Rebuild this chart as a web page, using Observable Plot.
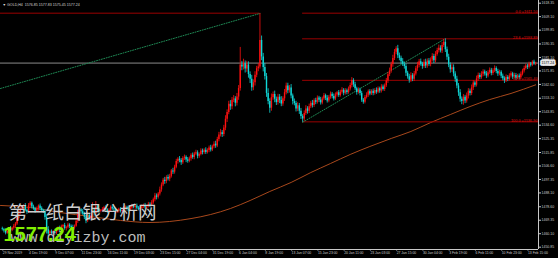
<!DOCTYPE html>
<html><head><meta charset="utf-8">
<script src="https://cdn.jsdelivr.net/npm/d3@7"></script>
<script src="https://cdn.jsdelivr.net/npm/@observablehq/plot@0.6"></script>
<style>html,body{margin:0;padding:0;background:#000;overflow:hidden}</style>
</head><body><div id="chart"></div>
<script>
// ---- data ----
const symbolHeader = "\u25BC GOLD,H4  1576.85 1577.83 1575.45 1577.24";
const firstOpen = 1463.4;
const closes = [
1463.0,1462.0,1460.5,1461.8,1463.5,1462.4,1463.9,1465.2,1466.8,1470.5,1474.8,1476.9,1477.6,1478.8,1476.2,1474.9,1479.3,1481.0,1478.4,1477.2,
1475.6,1476.8,1479.1,1477.5,1476.0,1475.3,1471.2,1462.8,1459.9,1461.4,1460.2,1461.5,1460.3,1462.7,1463.9,1462.1,1464.8,1465.7,1463.6,1464.2,
1466.1,1465.0,1464.4,1463.8,1465.3,1468.6,1474.9,1476.5,1475.2,1473.7,1471.4,1468.9,1472.8,1470.6,1471.9,1476.3,1474.0,1478.7,1476.4,1475.5,
1475.9,1476.8,1477.9,1476.6,1475.4,1476.2,1478.3,1477.1,1476.5,1474.8,1475.6,1476.9,1475.3,1476.0,1477.4,1478.2,1477.0,1476.1,1477.8,1478.9,
1478.1,1479.2,1477.6,1476.8,1477.5,1478.6,1479.4,1478.0,1478.7,1480.3,1479.6,1481.2,1483.4,1486.0,1485.1,1487.3,1490.2,1493.5,1496.8,1495.9,
1498.7,1497.6,1499.5,1503.2,1502.4,1505.8,1509.6,1511.2,1510.3,1508.9,1511.8,1512.6,1510.7,1509.8,1511.5,1513.9,1512.4,1514.8,1515.6,1513.2,
1514.5,1516.9,1515.8,1517.4,1515.9,1517.2,1518.9,1517.5,1519.8,1521.6,1520.4,1524.8,1527.9,1529.5,1528.2,1532.6,1538.7,1543.4,1548.9,1547.2,
1551.8,1552.6,1549.7,1553.9,1559.8,1576.0,1574.6,1576.8,1573.2,1575.9,1569.4,1566.1,1560.3,1563.7,1568.9,1573.4,1574.6,1592.8,1581.5,1574.2,
1568.0,1556.4,1550.8,1546.3,1553.5,1555.7,1552.4,1550.1,1553.8,1551.6,1549.2,1552.7,1556.9,1561.5,1558.3,1560.2,1554.6,1550.8,1549.5,1545.7,
1547.9,1544.2,1540.5,1538.9,1542.7,1545.8,1544.1,1547.3,1549.6,1548.2,1551.4,1550.3,1553.2,1551.8,1549.9,1552.5,1554.8,1553.1,1551.2,1553.7,
1555.9,1554.3,1552.6,1555.4,1556.8,1554.9,1557.3,1558.6,1556.5,1558.2,1557.0,1559.4,1561.8,1565.2,1562.4,1559.7,1557.1,1558.8,1556.3,1551.8,
1550.4,1553.6,1555.2,1557.6,1556.1,1557.9,1556.4,1558.5,1557.2,1559.6,1558.0,1560.8,1559.1,1561.7,1564.9,1569.3,1571.8,1576.2,1580.4,1584.6,
1587.1,1582.3,1580.5,1578.2,1576.4,1574.9,1570.3,1567.8,1565.4,1568.6,1566.2,1569.7,1573.4,1575.6,1578.1,1576.5,1574.9,1577.8,1575.2,1578.6,
1576.3,1579.4,1581.7,1578.8,1583.2,1585.9,1587.4,1585.6,1589.3,1591.5,1586.4,1581.2,1575.8,1572.6,1574.1,1569.8,1566.2,1561.5,1556.8,1552.4,
1550.9,1553.7,1551.2,1554.6,1557.9,1556.3,1560.2,1563.5,1562.1,1566.4,1568.8,1567.3,1569.5,1571.2,1569.8,1568.4,1570.6,1572.3,1570.1,1571.9,
1573.5,1571.4,1569.8,1570.9,1568.2,1566.5,1565.1,1567.4,1566.0,1568.3,1569.9,1567.6,1568.8,1566.9,1568.4,1567.2,1569.5,1571.8,1573.6,1575.2,
1574.3,1576.5,1575.8,1577.9,1576.85,1577.24];
const upWick = [
1.2,0.8,1.5,1.1,0.9,1.6,0.7,1.3,1.0,1.8,1.4,0.9,1.7,1.2,2.0,0.8,1.5,1.1,0.9,1.3,
1.0,1.6,0.8,1.4,1.1,0.9,1.2,1.5,2.1,1.0,1.3,0.8,1.6,1.1,0.9,1.4,1.2,0.7,1.5,1.0,
1.3,0.9,1.1,1.6,0.8,1.9,1.4,1.2,0.9,1.5,1.1,1.7,0.8,1.3,1.0,5.0,1.2,3.5,1.1,0.9,
0.8,1.2,1.0,1.4,0.7,1.1,0.9,1.3,0.8,1.0,1.2,0.7,1.1,0.9,1.3,1.0,0.8,1.2,0.9,1.4,
1.0,0.8,1.3,1.1,0.9,1.2,1.0,1.5,0.8,1.3,1.1,1.6,1.2,1.8,1.4,1.1,1.9,1.5,1.3,2.0,
1.2,1.7,1.4,1.0,1.8,1.3,1.6,1.1,1.9,1.4,1.2,1.5,1.0,1.7,1.3,1.1,1.6,1.2,1.8,1.4,
1.1,1.5,1.3,1.0,1.7,1.2,1.4,1.9,1.1,1.6,2.0,1.5,1.8,2.2,1.4,1.9,2.4,1.7,2.1,2.6,
1.8,2.3,1.6,2.5,2.0,12.0,2.4,3.1,1.9,2.6,2.2,1.8,2.7,2.0,2.4,1.6,2.2,18.5,3.0,2.4,
2.8,2.1,3.2,1.9,2.5,1.7,2.3,1.5,2.0,1.8,2.6,1.4,2.2,2.0,1.9,1.6,2.3,1.4,1.8,1.5,
2.1,1.6,1.9,1.3,1.7,2.2,1.5,1.8,1.4,2.0,1.3,1.7,1.5,1.2,1.9,1.4,1.6,1.1,1.8,1.3,
1.5,1.2,1.7,1.4,1.0,1.6,1.3,1.8,1.1,1.5,1.2,1.4,1.7,2.1,1.3,1.6,1.0,1.4,1.2,1.5,
1.1,1.3,1.6,1.2,1.4,1.0,1.5,1.2,1.7,1.3,1.1,1.6,1.4,1.2,1.8,1.5,2.0,1.7,2.2,1.9,
1.4,2.3,1.8,1.5,2.1,1.6,1.9,1.3,1.7,2.0,1.4,1.8,1.5,2.2,1.6,1.9,1.3,1.7,2.1,1.5,
1.8,1.4,2.0,1.6,1.9,1.5,2.2,1.7,2.0,1.9,2.4,1.8,2.1,1.6,2.3,1.9,1.5,2.0,1.7,2.2,
1.6,1.9,1.4,2.1,1.8,1.5,2.0,1.7,1.3,1.9,1.6,1.4,1.8,1.5,1.2,1.7,1.4,1.6,1.3,1.5,
1.8,1.2,1.6,1.4,1.1,1.5,1.3,1.7,1.2,1.6,1.4,1.0,1.5,1.3,1.1,1.4,1.6,1.2,1.5,1.3,
1.1,1.4,1.2,1.0,1.3,0.59];
const downWick = [
1.0,1.4,1.2,0.8,1.5,1.1,0.9,1.3,1.6,1.0,1.2,1.7,0.9,1.4,1.1,1.5,0.8,1.3,1.2,1.0,
1.4,0.9,1.2,1.6,1.0,1.3,1.8,2.9,1.8,1.1,1.4,0.9,1.3,1.0,1.5,1.2,0.8,1.4,1.1,1.6,
0.9,1.3,1.0,1.5,1.2,0.8,1.4,1.1,1.7,1.0,1.6,1.9,1.2,1.4,0.9,1.3,1.8,1.0,1.5,1.2,
1.1,0.8,1.3,1.0,1.4,0.9,1.2,1.0,1.5,1.1,0.8,1.3,1.0,1.2,0.9,1.1,1.4,1.0,0.8,1.2,
0.9,1.3,1.1,1.0,1.4,0.8,1.2,1.0,1.3,0.9,1.5,1.1,1.0,1.4,1.8,1.2,1.3,1.6,1.1,1.9,
1.5,1.3,1.8,1.2,1.6,1.4,1.1,1.7,1.5,1.9,1.2,1.4,1.8,1.3,1.0,1.6,1.2,1.5,1.1,1.7,
1.3,1.0,1.6,1.2,1.4,1.1,1.5,1.3,1.0,1.4,1.7,1.2,1.6,1.4,2.0,1.5,1.8,2.2,1.6,2.4,
2.0,1.7,2.5,1.9,2.2,1.8,2.6,2.1,2.8,2.3,2.5,2.9,2.4,2.0,2.2,1.7,2.1,1.5,2.6,3.0,
2.4,2.7,2.2,3.5,2.1,1.8,2.4,2.0,1.7,2.2,1.9,1.6,1.8,1.5,2.1,1.7,1.9,2.3,1.6,2.0,
1.8,2.2,1.9,2.3,1.6,1.4,1.9,1.5,1.3,1.8,1.4,1.6,1.2,1.7,1.5,1.3,1.1,1.6,1.4,1.2,
1.3,1.6,1.4,1.1,1.5,1.2,1.0,1.4,1.7,1.2,1.5,1.1,1.3,1.6,1.8,1.4,1.9,1.2,1.6,1.5,
1.4,1.2,1.0,1.5,1.3,1.1,1.6,1.2,1.4,1.0,1.5,1.3,1.1,1.4,1.2,1.6,1.3,1.5,1.8,1.4,
1.6,2.0,1.7,1.9,1.5,1.8,2.2,1.6,2.0,1.4,1.7,1.5,1.3,1.8,1.6,1.4,1.9,1.2,1.7,1.5,
1.3,1.6,1.4,1.9,1.5,1.2,1.7,1.4,1.8,1.3,1.9,2.1,1.7,2.3,1.8,2.0,2.2,1.9,2.4,2.0,
2.2,2.6,1.8,1.5,2.0,1.6,1.4,1.8,1.5,1.3,1.7,1.4,1.2,1.6,1.5,1.8,1.3,1.1,1.6,1.4,
1.2,1.5,1.7,1.3,1.6,1.4,1.9,1.2,1.5,1.1,1.3,1.6,1.2,1.4,1.0,1.5,1.3,1.1,1.4,1.2,
1.5,1.1,1.3,1.0,1.2,1.4];

// moving average (sampled along the curve)
const maIdx = [-1.1,17,35,54,72,90,102,115,127,139,151,163,176,188,200,212,224,237,249,261,273,285,297,310,325];
const maVal = [1479.5,1478.1,1474.7,1471.9,1469.2,1467.8,1468.5,1470.5,1473.3,1477.4,1482.9,1489.1,1495.3,1502.1,1508.3,1514.5,1520.0,1525.5,1530.3,1536.4,1541.9,1547.4,1552.2,1556.4,1562.3];

// price axis labels
const yTicks = [1618.35,1609.10,1599.85,1590.35,1581.10,1571.85,1562.60,1553.10,1543.85,1534.60,1525.35,1515.85,1506.60,1497.35,1488.10,1478.60,1469.35,1460.10,1450.85];
const yDomain = [1449.27, 1620.2];
const currentPrice = 1577.24;

// time axis labels (every 16 bars)
const xTickIdx = [0,16,32,48,64,80,96,112,128,144,160,176,192,208,224,240,256,272,288,304,320];
const xTickLabels = ["29 Nov 2019","4 Dec 19:00","9 Dec 07:00","11 Dec 23:00","16 Dec 11:00","19 Dec 03:00","23 Dec 15:00","27 Dec 04:00","31 Dec 19:00","6 Jan 04:00","8 Jan 19:00","13 Jan 07:00","15 Jan 23:00","20 Jan 11:00","23 Jan 03:00","27 Jan 15:00","30 Jan 04:00","3 Feb 19:00","6 Feb 11:00","10 Feb 23:00","13 Feb 15:00"];
const xDomain = [-1.1, 326.75];

// Fibonacci retracement
const fibNames = ["0.0","23.6","61.8","100.0"];
const fibLevels = [1611.50,1593.89,1565.40,1536.90];
const fibStartIdx = 183;
const topLineLevel = 1611.50;
const topLineEndIdx = 157;

// dotted trend lines [x0,y0,x1,y1]
const trend1 = {x: [-1.1, 157], y: [1559.8, 1611.3]};
const trend2 = {x: [183, 269], y: [1536.6, 1593.4]};

// watermark
const wmChinese = "第一纸白银分析网";
const wmPrice = "1577.24";
const wmUrl = "www.diyizby.com";

// ---- build ----
const bars = closes.map((c, i) => {
  const o = i ? closes[i - 1] : firstOpen;
  const top = Math.max(o, c), bot = Math.min(o, c);
  return {i, o, c, h: top + (upWick[i] ?? 1), l: bot - (downWick[i] ?? 1),
          b1: bot, b2: Math.max(top, bot + 0.5), up: c >= o};
});
const upBars = bars.filter(d => d.up), dnBars = bars.filter(d => !d.up);
const RED = "#ff1010", CYAN = "#10d8d8", FIB = "#9a0000";
const ma = maIdx.map((x, k) => ({x, y: maVal[k]}));
const t1 = trend1.x.map((x, k) => ({x, y: trend1.y[k]}));
const t2 = trend2.x.map((x, k) => ({x, y: trend2.y[k]}));
const fib = fibLevels.map((v, k) => ({v, label: fibNames[k] + " =" + v.toFixed(2)}));
const FONT = "Liberation Sans, Arial, sans-serif";

const chart = Plot.plot({
  width: 558, height: 258,
  marginLeft: 0, marginRight: 20, marginTop: 0, marginBottom: 9,
  style: {background: "#000", color: "#c8c8c8", fontFamily: FONT},
  x: {domain: xDomain, axis: null},
  y: {domain: yDomain, axis: null},
  marks: [
    Plot.line(ma, {x: "x", y: "y", stroke: "#a8481c", strokeWidth: 1, curve: "monotone-x"}),
    Plot.ruleY([currentPrice], {stroke: "#8a8a8a", strokeWidth: 1}),
    Plot.ruleY([topLineLevel], {x1: xDomain[0], x2: topLineEndIdx, stroke: FIB, strokeWidth: 1}),
    Plot.ruleY(fib, {y: "v", x1: fibStartIdx, x2: xDomain[1], stroke: FIB, strokeWidth: 1}),
    Plot.line(t1, {x: "x", y: "y", stroke: "#1f8a55", strokeWidth: 1, strokeDasharray: "1,1.5"}),
    Plot.line(t2, {x: "x", y: "y", stroke: "#1f8a55", strokeWidth: 1, strokeDasharray: "1,1.5"}),
    Plot.ruleX(upBars, {x: "i", y1: "l", y2: "h", stroke: RED, strokeWidth: 0.8}),
    Plot.ruleX(dnBars, {x: "i", y1: "l", y2: "h", stroke: CYAN, strokeWidth: 0.8}),
    Plot.ruleX(upBars, {x: "i", y1: "b1", y2: "b2", stroke: RED, strokeWidth: 1.4}),
    Plot.ruleX(dnBars, {x: "i", y1: "b1", y2: "b2", stroke: CYAN, strokeWidth: 1.4}),
    Plot.text(fib, {x: xDomain[1], y: "v", text: "label", textAnchor: "end", lineAnchor: "bottom",
      dx: -1, dy: -0.3, fill: "#e01010", fontSize: 3.8, fontFamily: FONT}),
    // watermark
    Plot.text([wmChinese], {frameAnchor: "bottom-left", textAnchor: "start", lineAnchor: "middle",
      dx: 8, dy: -36.5, fontSize: 18.5, fill: "#cfcfcf", fontFamily: "Noto Sans CJK SC"}),
    Plot.text([wmUrl], {frameAnchor: "bottom-left", textAnchor: "start", lineAnchor: "middle",
      dx: 10, dy: -12, fontSize: 15, fill: "#bdbdbd", fontFamily: "Liberation Mono, monospace"}),
    Plot.text([wmPrice], {frameAnchor: "bottom-left", textAnchor: "start", lineAnchor: "middle",
      dx: 3, dy: -15, fontSize: 20, fontWeight: "bold", fill: "#80f000", fontFamily: FONT}),
    // header
    Plot.text([symbolHeader], {frameAnchor: "top-left", textAnchor: "start", lineAnchor: "top",
      dx: 2, dy: 3, fontSize: 3.6, fill: "#d8d8d8", fontFamily: FONT}),
    // axes
    Plot.ruleX([xDomain[1]], {stroke: "#c8c8c8", strokeWidth: 1}),
    Plot.ruleY([yDomain[0]], {stroke: "#c8c8c8", strokeWidth: 1}),
    Plot.axisY(yTicks, {anchor: "right", tickSize: 2, tickPadding: 1, tickFormat: d => d.toFixed(2),
      fontSize: 3.5, color: "#c8c8c8", fontFamily: FONT}),
    Plot.axisX(xTickIdx, {anchor: "bottom", tickSize: 1.5, tickPadding: 0.5,
      tickFormat: d => xTickLabels[xTickIdx.indexOf(d)], textAnchor: "start", dx: 0.5,
      fontSize: 3.4, color: "#c8c8c8", fontFamily: FONT}),
    Plot.text([currentPrice], {x: xDomain[1], y: d => d, text: d => d.toFixed(2), textAnchor: "start",
      dx: 3, fontSize: 3.5, fill: "#000", stroke: "#e8e8e8", strokeWidth: 3.5, paintOrder: "stroke",
      fontFamily: FONT})
  ]
});
document.getElementById("chart").appendChild(chart);
</script>
</body></html>
